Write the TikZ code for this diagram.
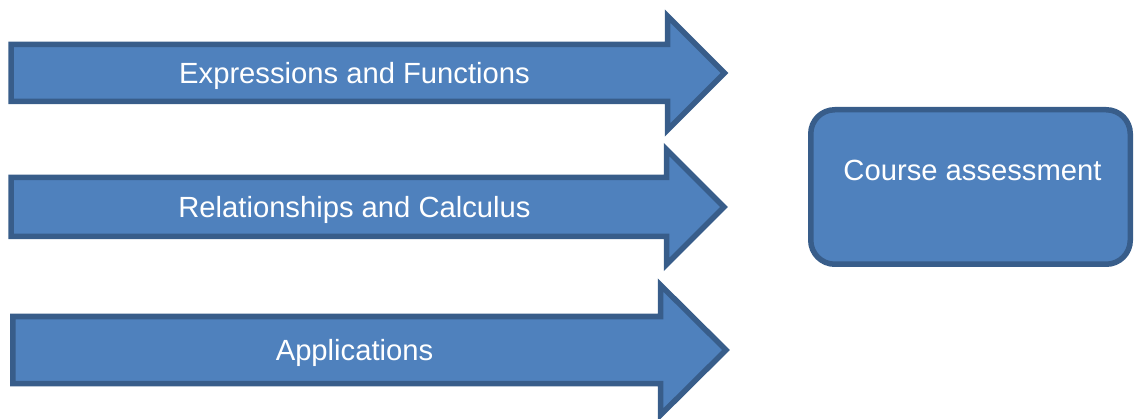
\documentclass[tikz,border=0pt]{standalone}
\usepackage{fontspec}
\setmainfont{Liberation Sans}
\definecolor{boxfill}{HTML}{4F81BD}
\definecolor{boxline}{HTML}{385D8A}
\begin{document}
\begin{tikzpicture}[x=1pt,y=-1pt,
  shapebox/.style={fill=boxfill,draw=boxline,line width=5.5pt,line join=miter,miter limit=20},
  label/.style={text=white,font=\fontsize{29.2}{34}\selectfont,inner sep=0pt,anchor=base}]
\useasboundingbox (0,0) rectangle (1134,419);

% block arrows: left, centre y, shaft half-height, head back x, head half-height, tip x
\newcommand{\blockarrow}[6]{%
  \draw[shapebox] (#1,#2-#3) -- (#4,#2-#3) -- (#4,#2-#5) -- (#6,#2)
    -- (#4,#2+#5) -- (#4,#2+#3) -- (#1,#2+#3) -- cycle;}

\blockarrow{11}{73}{28.5}{667.5}{57}{724.5}
\blockarrow{11}{207}{29.5}{666.5}{57.5}{724}
\blockarrow{12.75}{350}{33.5}{660.5}{65}{726}

\node[label] (expr) at (354.5,83.5) {Expressions and Functions};
\node[label] (rel) at (354.5,218) {Relationships and Calculus};
\node[label] (app) at (354.5,360.5) {Applications};

% assessment box
\draw[shapebox,rounded corners=24pt] (810.75,109.75) rectangle (1130.25,264.25);
\node[label] (assess) at (972.5,181) {Course assessment};
\end{tikzpicture}
\end{document}
